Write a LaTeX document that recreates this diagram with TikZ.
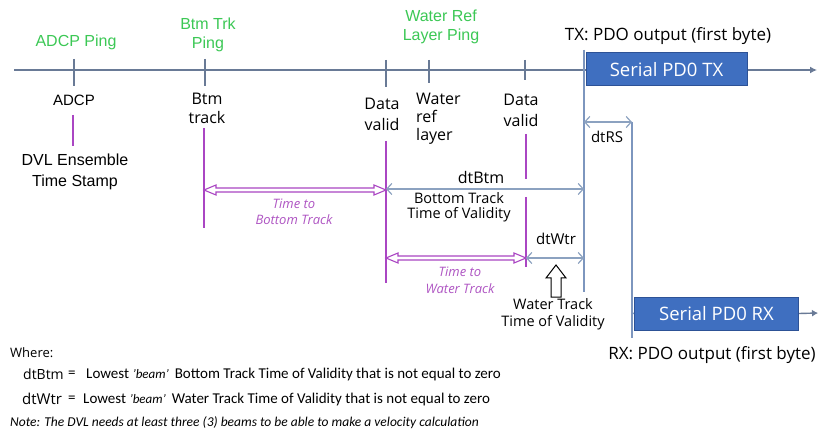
\documentclass[tikz,border=0pt]{standalone}
\usepackage{fontspec}
\setmainfont{Carlito}
\newfontfamily\osans{Open Sans}
\newfontfamily\arialf{Liberation Sans}
\usetikzlibrary{arrows.meta,calc}
\definecolor{tlgray}{RGB}{105,122,150}
\definecolor{dimblue}{RGB}{140,162,192}
\definecolor{vblue}{RGB}{125,150,190}
\definecolor{pgreen}{RGB}{60,200,85}
\definecolor{ppurple}{RGB}{170,70,195}
\definecolor{tpurple}{RGB}{175,85,195}
\definecolor{boxfill}{RGB}{63,111,192}
\definecolor{boxedge}{RGB}{45,82,150}
\begin{document}
\begin{tikzpicture}[x=1pt,y=-1pt,
  greenlbl/.style={text=pgreen, font=\arialf\fontsize{16}{19}\selectfont, align=center, inner sep=0pt},
  lbl/.style={font=\osans\fontsize{16}{19}\selectfont, align=center, inner sep=0pt},
  ticksty/.style={draw=tlgray, line width=1.3pt},
  pline/.style={draw=ppurple, line width=1.2pt},
  vline/.style={draw=vblue, line width=1.4pt},
  dimarrow/.style={draw=dimblue, line width=1.2pt, {Straight Barb[length=5pt,width=11pt]}-{Straight Barb[length=5pt,width=11pt]}},
  hollow/.style={draw=ppurple, line width=1.1pt, line join=miter},
  ptext/.style={text=tpurple, font=\osans\itshape\fontsize{13}{16}\selectfont, align=center, inner sep=0pt},
  serialbox/.style={draw=boxedge, fill=boxfill, line width=1pt, text=white, font=\osans\fontsize{18.5}{22}\selectfont, inner sep=0pt, minimum height=33pt},
  foot/.style={font=\fontsize{15}{17}\selectfont, inner sep=0pt, anchor=west}
]
\useasboundingbox (0,0) rectangle (818,435);
\fill[white] (0,0) rectangle (818,435);

% timeline
\coordinate (tlstart) at (14,70);
\coordinate (tlend) at (817,70);
\draw[draw=tlgray, line width=1.4pt, -{Latex[length=7pt,width=7pt]}] (tlstart) -- (tlend);

% ticks
\coordinate (t1a) at (74,59);  \coordinate (t1b) at (74,86);
\coordinate (t2a) at (205,59); \coordinate (t2b) at (205,86);
\coordinate (t3a) at (386,60); \coordinate (t3b) at (386,87);
\coordinate (t4a) at (429,60); \coordinate (t4b) at (429,83);
\coordinate (t5a) at (525,60); \coordinate (t5b) at (525,80);
\draw[ticksty] (t1a) -- (t1b);
\draw[ticksty] (t2a) -- (t2b);
\draw[ticksty] (t3a) -- (t3b);
\draw[ticksty] (t4a) -- (t4b);
\draw[ticksty] (t5a) -- (t5b);

% green labels
\node[greenlbl] (adcpping) at (76,42) {ADCP Ping};
\node[greenlbl] (btmping) at (208,35) {Btm Trk\\Ping};
\node[greenlbl] (wrping) at (441,27) {Water Ref\\Layer Ping};
\node[lbl, font=\osans\fontsize{17}{20}\selectfont] (txlabel) at (668,36) {TX: PDO output (first byte)};

% TX box
\node[serialbox, minimum width=161pt] (txbox) at (666.5,69.5) {Serial PD0 TX};

% labels under timeline
\node[lbl, font=\arialf\fontsize{15}{18}\selectfont] (adcp) at (74,100) {ADCP};
\node[lbl] (btmtrack) at (207,108) {Btm\\track};
\node[lbl, font=\osans\fontsize{16}{21}\selectfont] (dv1) at (382,114) {Data\\valid};
\node[lbl, align=left, anchor=west, font=\osans\fontsize{16}{18}\selectfont] (wref) at (416,119) {Water\\ref\\layer};
\node[lbl, font=\osans\fontsize{16}{21}\selectfont] (dv2) at (521,110) {Data\\valid};
\node[lbl, font=\arialf\fontsize{16}{21}\selectfont] (dvl) at (75,172) {DVL Ensemble\\Time Stamp};

% purple verticals
\coordinate (p1a) at (73,115);  \coordinate (p1b) at (73,146);
\coordinate (p2a) at (204,128); \coordinate (p2b) at (204,228);
\coordinate (p3a) at (386,141); \coordinate (p3b) at (386,283);
\coordinate (p4a) at (526,134); \coordinate (p4b) at (526,179);
\coordinate (p5a) at (526,197); \coordinate (p5b) at (526,267);
\draw[pline] (p1a) -- (p1b);
\draw[pline] (p2a) -- (p2b);
\draw[pline] (p3a) -- (p3b);
\draw[pline] (p4a) -- (p4b);
\draw[pline] (p5a) -- (p5b);

% blue verticals
\coordinate (v1a) at (584,50);  \coordinate (v1b) at (584,292);
\coordinate (v2a) at (632,122); \coordinate (v2b) at (632,338);
\draw[vline] (v1a) -- (v1b);
\draw[vline] (v2a) -- (v2b);

% dtRS
\coordinate (rsL) at (584,122); \coordinate (rsR) at (632,122);
\draw[dimarrow] (rsL) -- (rsR);
\node[lbl, font=\osans\fontsize{15}{18}\selectfont] (dtrs) at (607,137) {dtRS};

% dtBtm
\coordinate (btL) at (386,189); \coordinate (btR) at (584,189);
\draw[dimarrow] (btL) -- (btR);
\node[lbl] (dtbtm) at (481,178) {dtBtm};
\node[lbl, font=\osans\fontsize{14.5}{14.5}\selectfont] (bttov) at (459,207) {Bottom Track\\Time of Validity};

% Time to Bottom Track hollow arrow
\coordinate (hbA) at (204,190); \coordinate (hbB) at (386,190);
\draw[hollow] (hbA) -- ++(12,-5) -- ++(0,3) -- ($(hbB)+(-12,-2)$) -- ++(0,-3) -- (hbB)
  -- ++(-12,5) -- ++(0,-3) -- ($(hbA)+(12,2)$) -- ++(0,3) -- cycle;
\node[ptext] (timebt) at (294,212) {Time to\\Bottom Track};

% Time to Water Track hollow arrow
\coordinate (hwA) at (386,258); \coordinate (hwB) at (526,258);
\draw[hollow] (hwA) -- ++(12,-5) -- ++(0,3) -- ($(hwB)+(-12,-2)$) -- ++(0,-3) -- (hwB)
  -- ++(-12,5) -- ++(0,-3) -- ($(hwA)+(12,2)$) -- ++(0,3) -- cycle;
\node[ptext, font=\osans\itshape\fontsize{13}{17}\selectfont] (timewt) at (460,280) {Time to\\Water Track};

% dtWtr
\coordinate (wtL) at (526,258); \coordinate (wtR) at (584,258);
\draw[dimarrow] (wtL) -- (wtR);
\node[lbl, font=\osans\fontsize{15}{18}\selectfont] (dtwtr) at (556,239) {dtWtr};

% hollow up arrow
\coordinate (uptip) at (556,265);
\draw[black, line width=1pt, fill=white, line join=miter] (uptip) -- ++(10,13) -- ++(-5,0) -- ++(0,19) -- ++(-10,0) -- ++(0,-19) -- ++(-5,0) -- cycle;
\node[lbl, font=\osans\fontsize{14.5}{17}\selectfont] (wttov) at (553,314) {Water Track\\Time of Validity};

% RX box
\node[serialbox, minimum width=164pt] (rxbox) at (716.5,313.5) {Serial PD0 RX};
\coordinate (rxin) at (632,313);
\coordinate (rxout) at (818,313);
\draw[vline] (rxin) -- (rxbox.west);
\draw[draw=tlgray, line width=1.4pt, -{Latex[length=6pt,width=7pt]}] (rxbox.east) -- (rxout);
\node[lbl, font=\osans\fontsize{17}{20}\selectfont] (rxlabel) at (712,355) {RX: PDO output (first byte)};

% footer
\node[lbl, anchor=west, font=\osans\fontsize{13}{16}\selectfont] (where) at (10,353) {Where:};
\node[lbl, anchor=west, font=\osans\fontsize{14}{18}\selectfont] (fbtm) at (23,374) {dtBtm};
\node[foot] (fbtmeq) at (68,374) {=};
\node[foot] (fbtmtxt) at (86,374) {Lowest \textit{\fontsize{13}{15}\selectfont 'beam'} \,Bottom Track Time of Validity that is not equal to zero};
\node[lbl, anchor=west, font=\osans\fontsize{15}{18}\selectfont] (fwtr) at (22,399) {dtWtr};
\node[foot] (fwtreq) at (68,399) {=};
\node[foot] (fwtrtxt) at (83,399) {Lowest \textit{\fontsize{13}{15}\selectfont 'beam'} \,Water Track Time of Validity that is not equal to zero};
\node[foot, font=\itshape\fontsize{13.5}{16}\selectfont] (note) at (10,423) {Note: The DVL needs at least three (3) beams to be able to make a velocity calculation};
\end{tikzpicture}
\end{document}
